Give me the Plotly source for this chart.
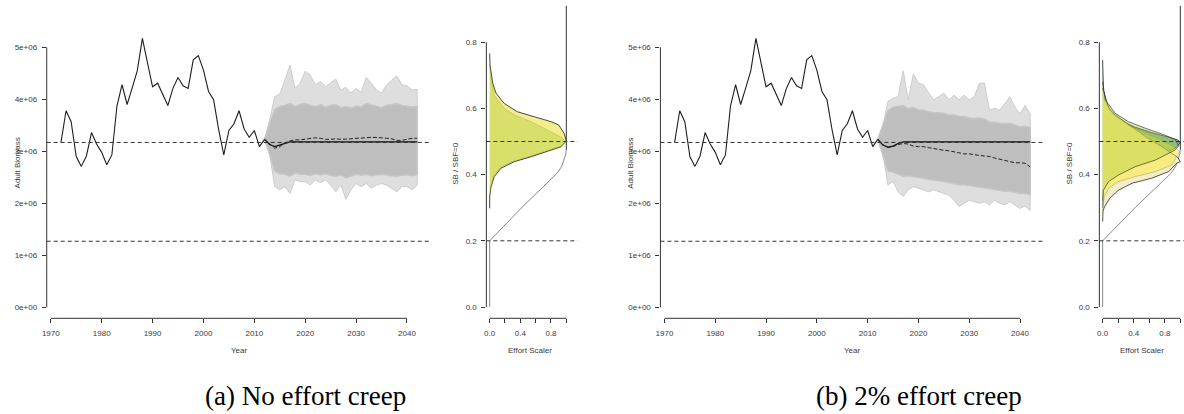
import plotly.graph_objects as go

W, H = 1184, 414

# ---------------- data ----------------
hist_years = list(range(1972, 2013))
hist_biomass = [3.17, 3.78, 3.57, 2.90, 2.71, 2.91, 3.36, 3.14, 2.98, 2.74, 2.93,
                3.87, 4.28, 3.90, 4.22, 4.55, 5.17, 4.72, 4.24, 4.31, 4.08, 3.88,
                4.21, 4.42, 4.26, 4.21, 4.76, 4.84, 4.56, 4.15, 3.99, 3.41, 2.93,
                3.40, 3.53, 3.78, 3.43, 3.27, 3.40, 3.09, 3.23]  # millions

proj_years = list(range(2012, 2043))

# panel (a): no effort creep  (millions)
a_max = [3.23, 3.60, 4.05, 4.10, 4.37, 4.66, 4.21, 4.31, 4.54, 4.47, 4.28, 4.34,
         4.24, 4.31, 4.39, 4.18, 4.23, 4.12, 4.21, 4.13, 4.42, 4.31, 4.18, 4.12,
         4.28, 4.37, 4.45, 4.28, 4.26, 4.18, 4.19]
a_min = [3.23, 2.96, 2.32, 2.26, 2.32, 2.19, 2.45, 2.42, 2.42, 2.35, 2.45, 2.40,
         2.45, 2.35, 2.22, 2.35, 2.08, 2.26, 2.38, 2.32, 2.38, 2.29, 2.35, 2.38,
         2.35, 2.29, 2.22, 2.32, 2.32, 2.26, 2.35]
a_core_hi = [3.23, 3.50, 3.80, 3.86, 3.88, 3.92, 3.86, 3.90, 3.92, 3.88, 3.86, 3.90,
             3.85, 3.88, 3.90, 3.84, 3.86, 3.83, 3.87, 3.85, 3.92, 3.89, 3.86, 3.84,
             3.88, 3.90, 3.92, 3.88, 3.87, 3.85, 3.86]
a_core_lo = [3.23, 2.95, 2.62, 2.57, 2.56, 2.52, 2.58, 2.56, 2.56, 2.54, 2.57, 2.55,
             2.57, 2.54, 2.52, 2.55, 2.49, 2.53, 2.56, 2.54, 2.56, 2.53, 2.55, 2.56,
             2.55, 2.53, 2.52, 2.54, 2.55, 2.53, 2.55]
a_mean = [3.23, 3.15, 3.06, 3.09, 3.16, 3.20, 3.22, 3.22, 3.23, 3.25, 3.26, 3.25,
          3.23, 3.23, 3.24, 3.23, 3.23, 3.24, 3.25, 3.25, 3.26, 3.27, 3.27, 3.26,
          3.25, 3.24, 3.21, 3.21, 3.23, 3.25, 3.25]
a_median = [3.23, 3.13, 3.09, 3.12, 3.16, 3.18, 3.18, 3.18, 3.18, 3.18, 3.18, 3.18,
            3.18, 3.18, 3.18, 3.18, 3.18, 3.18, 3.18, 3.18, 3.18, 3.18, 3.18, 3.18,
            3.18, 3.18, 3.18, 3.18, 3.18, 3.18, 3.18]

# panel (b): 2% effort creep (millions)
b_max = [3.23, 3.50, 3.96, 4.02, 4.05, 4.55, 3.99, 4.49, 4.31, 4.28, 4.12, 3.99,
         4.05, 4.12, 3.99, 4.08, 3.99, 4.08, 3.99, 4.05, 4.31, 4.31, 3.79, 3.83,
         3.79, 3.92, 4.05, 3.85, 3.72, 3.88, 3.72]
b_min = [3.23, 2.95, 2.35, 2.42, 2.22, 2.13, 2.26, 2.32, 2.29, 2.26, 2.22, 2.26,
         2.22, 2.19, 2.16, 2.06, 1.94, 2.00, 2.06, 2.03, 2.00, 2.03, 1.97, 2.06,
         2.00, 1.97, 2.03, 1.97, 1.90, 1.95, 1.86]
b_core_hi = [3.23, 3.50, 3.78, 3.85, 3.86, 3.88, 3.82, 3.84, 3.80, 3.79, 3.76, 3.74,
             3.74, 3.73, 3.70, 3.70, 3.67, 3.67, 3.64, 3.63, 3.64, 3.62, 3.56, 3.56,
             3.54, 3.53, 3.54, 3.50, 3.47, 3.48, 3.45]
b_core_lo = [3.23, 2.95, 2.62, 2.60, 2.56, 2.52, 2.53, 2.52, 2.50, 2.48, 2.46, 2.45,
             2.43, 2.42, 2.40, 2.38, 2.35, 2.36, 2.35, 2.33, 2.31, 2.30, 2.28, 2.27,
             2.25, 2.23, 2.23, 2.21, 2.19, 2.19, 2.17]
b_mean = [3.23, 3.13, 3.07, 3.09, 3.13, 3.15, 3.14, 3.10, 3.09, 3.09, 3.07, 3.05,
          3.03, 3.02, 3.01, 2.99, 2.96, 2.95, 2.95, 2.93, 2.92, 2.91, 2.90, 2.87,
          2.85, 2.83, 2.80, 2.78, 2.78, 2.77, 2.70]
b_median = [3.23, 3.12, 3.08, 3.10, 3.15, 3.18, 3.18, 3.18, 3.18, 3.18, 3.18, 3.18,
            3.18, 3.18, 3.18, 3.18, 3.18, 3.18, 3.18, 3.18, 3.18, 3.18, 3.18, 3.18,
            3.18, 3.18, 3.18, 3.18, 3.18, 3.18, 3.18]

target_biomass = 3.17e6
limit_biomass = 1.27e6
target_ratio = 0.5
limit_ratio = 0.2

# harvest control rule (effort scaler vs SB/SBF=0)
hcr_effort = [0.0, 0.0, 0.43, 0.75, 0.88, 0.94, 0.97, 0.99, 1.0, 1.0]
hcr_ratio = [0.0, 0.2, 0.303, 0.374, 0.404, 0.425, 0.445, 0.46, 0.475, 0.91]

# density shapes (SB/SBF=0, scaled density)
a1_ratio = [0.298, 0.333, 0.363, 0.394, 0.419, 0.439, 0.454, 0.469, 0.484, 0.502,
            0.525, 0.550, 0.560, 0.575, 0.590, 0.615, 0.646, 0.676, 0.731, 0.766]
a1_dens = [0.0, 0.0, 0.017, 0.06, 0.147, 0.32, 0.54, 0.75, 0.93, 1.0,
           0.97, 0.90, 0.80, 0.58, 0.36, 0.19, 0.083, 0.04, 0.005, 0.0]
a2_ratio = [0.30, 0.335, 0.365, 0.40, 0.424, 0.441, 0.456, 0.471, 0.486, 0.50,
            0.513, 0.535, 0.56, 0.58, 0.60, 0.64, 0.70, 0.735]
a2_dens = [0.0, 0.005, 0.02, 0.06, 0.15, 0.32, 0.54, 0.75, 0.93, 0.99,
           0.93, 0.75, 0.54, 0.32, 0.19, 0.06, 0.01, 0.0]

bt_ratio = [0.32, 0.36, 0.385, 0.405, 0.43, 0.45, 0.478, 0.49, 0.497,
            0.504, 0.513, 0.527, 0.543, 0.56, 0.58, 0.61, 0.656, 0.70, 0.746]
bt_dens = [0.0, 0.01, 0.077, 0.2, 0.42, 0.68, 0.92, 0.98, 1.0,
           0.97, 0.85, 0.63, 0.42, 0.25, 0.14, 0.056, 0.01, 0.003, 0.0]
bc_ratio = [0.258, 0.29, 0.303, 0.328, 0.353, 0.374, 0.389, 0.409, 0.434, 0.439,
            0.452, 0.484, 0.515, 0.58, 0.60, 0.64, 0.66]
bc_dens = [0.0, 0.005, 0.025, 0.09, 0.205, 0.38, 0.63, 0.85, 0.95, 1.0,
           0.967, 0.765, 0.55, 0.163, 0.08, 0.02, 0.0]
by_ratio = [0.29, 0.333, 0.359, 0.379, 0.394, 0.409, 0.429, 0.459, 0.469,
            0.485, 0.505, 0.525, 0.55, 0.58, 0.62, 0.66]
by_dens = [0.0, 0.02, 0.077, 0.205, 0.42, 0.68, 0.89, 0.97, 0.99,
           0.92, 0.75, 0.55, 0.33, 0.14, 0.03, 0.0]
bg_ratio = [0.30, 0.353, 0.379, 0.399, 0.424, 0.444, 0.474, 0.487,
            0.507, 0.523, 0.54, 0.56, 0.585, 0.625, 0.68]
bg_dens = [0.0, 0.01, 0.077, 0.205, 0.42, 0.68, 0.93, 0.98,
           0.93, 0.76, 0.55, 0.33, 0.163, 0.035, 0.0]

bio_ticks = [0, 1e6, 2e6, 3e6, 4e6, 5e6]
bio_ticktext = ["0e+00", "1e+06", "2e+06", "3e+06", "4e+06", "5e+06"]
year_ticks = [1970, 1980, 1990, 2000, 2010, 2020, 2030, 2040]
ratio_ticks = [0.0, 0.2, 0.4, 0.6, 0.8]
ratio_ticktext = ["0.0", "0.2", "0.4", "0.6", "0.8"]
eff_ticks = [0.0, 0.2, 0.4, 0.6, 0.8, 1.0]
eff_ticktext = ["0.0", "", "0.4", "", "0.8", ""]

captions = ["(a) No effort creep", "(b) 2% effort creep"]

# ---------------- layout geometry (pixels) ----------------
def fx(px):
    return px / W

def fy(py):
    return 1 - py / H

Y_TOP, Y_BOT = 5.0, 318.3
ydom = [fy(Y_BOT), fy(Y_TOP)]
main_yrange = [(307.3 - Y_BOT) / 52 * 1e6, (307.3 - Y_TOP) / 52 * 1e6]
side_yrange = [(307.0 - Y_BOT) / 331, (307.0 - Y_TOP) / 331]

TXT = "#3a3a3a"
FONT = "Liberation Sans, Arial, sans-serif"

fig = go.Figure()
M = lambda v: [x * 1e6 for x in v]


def band(xs, hi, lo):
    return xs + xs[::-1], hi + lo[::-1]


def main_panel(xa, ya, pmax, pmin, chi, clo, pmean, pmed):
    bx, by = band(proj_years, M(pmax), M(pmin))
    fig.add_trace(go.Scatter(x=bx, y=by, xaxis=xa, yaxis=ya, fill="toself",
                             fillcolor="rgba(195,195,195,0.55)", mode="lines",
                             line=dict(color="rgba(196,196,196,1)", width=0.8),
                             hoverinfo="skip", showlegend=False))
    cx, cy = band(proj_years, M(chi), M(clo))
    fig.add_trace(go.Scatter(x=cx, y=cy, xaxis=xa, yaxis=ya, fill="toself",
                             fillcolor="#bebebe", mode="lines",
                             line=dict(color="#c6c6c6", width=1.5),
                             hoverinfo="skip", showlegend=False))
    fig.add_trace(go.Scatter(x=hist_years, y=M(hist_biomass), xaxis=xa, yaxis=ya,
                             mode="lines", line=dict(color="#1e1e1e", width=1.1),
                             showlegend=False))
    fig.add_trace(go.Scatter(x=proj_years, y=M(pmed), xaxis=xa, yaxis=ya,
                             mode="lines", line=dict(color="#111111", width=1.3),
                             showlegend=False))
    fig.add_trace(go.Scatter(x=proj_years, y=M(pmean), xaxis=xa, yaxis=ya,
                             mode="lines", line=dict(color="#222222", width=1.0, dash="4px,2px"),
                             showlegend=False))


def shape_trace(xa, ya, dens, ratio, fill, line):
    fig.add_trace(go.Scatter(x=dens, y=ratio, xaxis=xa, yaxis=ya, fill="toself",
                             fillcolor=fill, mode="lines",
                             line=dict(color=line, width=0.8),
                             hoverinfo="skip", showlegend=False))


def hcr(xa, ya):
    fig.add_trace(go.Scatter(x=hcr_effort[:-1], y=hcr_ratio[:-1], xaxis=xa, yaxis=ya,
                             mode="lines", line=dict(color="#555555", width=0.7),
                             showlegend=False, cliponaxis=False))
    fig.add_trace(go.Scatter(x=hcr_effort[-2:], y=hcr_ratio[-2:], xaxis=xa, yaxis=ya,
                             mode="lines", line=dict(color="#333333", width=1.0),
                             showlegend=False, cliponaxis=False))


# panel (a)
main_panel("x", "y", a_max, a_min, a_core_hi, a_core_lo, a_mean, a_median)
hcr("x2", "y2")
shape_trace("x2", "y2", a1_dens, a1_ratio, "rgba(240,232,110,0.8)", "#1a1a1a")
shape_trace("x2", "y2", a2_dens, a2_ratio, "rgba(175,205,60,0.4)", "rgba(90,90,40,0.25)")

# panel (b)
main_panel("x3", "y3", b_max, b_min, b_core_hi, b_core_lo, b_mean, b_median)
hcr("x4", "y4")
shape_trace("x4", "y4", bt_dens, bt_ratio, "rgba(20,120,90,0.55)", "#1e1e1e")
shape_trace("x4", "y4", bc_dens, bc_ratio, "#f4eec8", "#2a2a2a")
shape_trace("x4", "y4", by_dens, by_ratio, "rgba(253,231,37,0.45)", "rgba(90,90,40,0.35)")
shape_trace("x4", "y4", bg_dens, bg_ratio, "rgba(175,205,60,0.4)", "rgba(30,30,30,0.75)")

# ---------------- axes ----------------
tickfont = dict(family=FONT, size=8, color=TXT)


def ax(domain, rng, tickvals, ticktext):
    return dict(domain=domain, range=rng, tickvals=tickvals, ticktext=ticktext,
                showgrid=False, zeroline=False, showline=False, ticks="outside",
                ticklen=4, tickwidth=1, tickcolor="#333333", tickfont=tickfont,
                ticklabelstandoff=3, fixedrange=True)


main_xrange = [1969.2, 2044.8]
fig.update_layout(
    xaxis=ax([fx(41.9), fx(428.2)], main_xrange, year_ticks, [str(y) for y in year_ticks]),
    yaxis=ax(ydom, main_yrange, bio_ticks, bio_ticktext),
    xaxis2=ax([fx(483.4), fx(575.0)], [-0.043, (575.0 - 486.7) / 77], eff_ticks, eff_ticktext),
    yaxis2=ax(ydom, side_yrange, ratio_ticks, ratio_ticktext),
    xaxis3=ax([fx(658.2), fx(1043.8)], main_xrange, year_ticks, [str(y) for y in year_ticks]),
    yaxis3=ax(ydom, main_yrange, bio_ticks, bio_ticktext),
    xaxis4=ax([fx(1099.0), 1.0], [(1099.0 - 1102.3) / 78, (1184 - 1102.3) / 78], eff_ticks, eff_ticktext),
    yaxis4=ax(ydom, side_yrange, ratio_ticks, ratio_ticktext),
)
for i, a in [(1, ""), (2, "2"), (3, "3"), (4, "4")]:
    fig.layout["xaxis" + a].anchor = "y" + a
    fig.layout["yaxis" + a].anchor = "x" + a

shapes = []
axl = dict(color="#333333", width=1)
dash = dict(color="#333333", width=1, dash="4px,3px")
for xa, ya in [("x", "y"), ("x3", "y3")]:
    shapes.append(dict(type="line", xref=xa + " domain", yref=ya, x0=0, x1=0, y0=0, y1=5e6, line=axl))
    shapes.append(dict(type="line", xref=xa, yref=ya + " domain", x0=1970, x1=2040, y0=0, y1=0, line=axl))
    for lvl in (target_biomass, limit_biomass):
        shapes.append(dict(type="line", xref=xa + " domain", yref=ya, x0=0, x1=1, y0=lvl, y1=lvl,
                           line=dash, layer="above"))
for xa, ya in [("x2", "y2"), ("x4", "y4")]:
    shapes.append(dict(type="line", xref=xa + " domain", yref=ya, x0=0, x1=0, y0=0, y1=0.8, line=axl))
    shapes.append(dict(type="line", xref=xa, yref=ya + " domain", x0=0, x1=1, y0=0, y1=0, line=axl))
    for lvl in (target_ratio, limit_ratio):
        shapes.append(dict(type="line", xref=xa + " domain", yref=ya, x0=0, x1=1, y0=lvl, y1=lvl,
                           line=dash, layer="above"))

ann = []
tf = dict(family=FONT, size=8, color=TXT)
for xc, txt in [(235, "Year"), (851, "Year"), (527, "Effort Scaler"), (1141.7, "Effort Scaler")]:
    ann.append(dict(text=txt, x=fx(xc), y=fy(350), xref="paper", yref="paper",
                    showarrow=False, font=tf, xanchor="center", yanchor="middle"))
for xc, txt in [(12.5, "Adult Biomass"), (627.5, "Adult Biomass"),
                (451.7, "SB / SBF=0"), (1069, "SB / SBF=0")]:
    ann.append(dict(text=txt, x=fx(xc), y=fy(163), xref="paper", yref="paper",
                    showarrow=False, font=tf, textangle=-90, xanchor="center", yanchor="middle"))
capf = dict(family="Liberation Serif, Times New Roman, serif", size=27, color="#000000")
for xc, txt in [(302, captions[0]), (918, captions[1])]:
    ann.append(dict(text=txt, x=fx(xc), y=fy(396), xref="paper", yref="paper",
                    showarrow=False, font=capf, xanchor="center", yanchor="middle"))

fig.update_layout(width=W, height=H, margin=dict(l=0, r=0, t=0, b=0),
                  paper_bgcolor="white", plot_bgcolor="white",
                  shapes=shapes, annotations=ann, showlegend=False)

fig.write_html("out.html", include_plotlyjs=True, config={"displayModeBar": False},
               post_script="document.body.style.margin='0px';document.body.style.overflow='hidden';")
